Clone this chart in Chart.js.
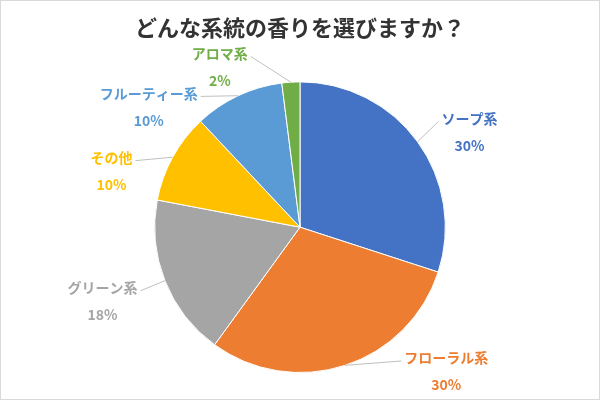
<!DOCTYPE html>
<html>
<head>
<meta charset="utf-8">
<script src="https://cdn.jsdelivr.net/npm/chart.js@4"></script>
<style>
  html, body { margin: 0; padding: 0; background: #fff; }
  #wrap { width: 600px; height: 401px; }
</style>
</head>
<body>
<div id="wrap"><canvas id="scentChart" width="600" height="401"></canvas></div>
<script>
// 香りの系統アンケート
const categories = ['ソープ系', 'フローラル系', 'グリーン系', 'その他', 'フルーティー系', 'アロマ系'];
const shares = [30, 30, 18, 10, 10, 2];
const sliceColors = ['#4472C4', '#ED7D31', '#A5A5A5', '#FFC000', '#5B9BD5', '#70AD47'];

// ラベルの位置（円の中心からの距離、半径単位）
const labelOffsets = [
    [1.166, -0.655],
    [1.007, 0.993],
    [-1.359, 0.51],
    [-1.297, -0.386],
    [-1.041, -0.828],
    [-0.552, -1.103]
];

const jpFont = '"Noto Sans CJK JP", "Noto Sans", sans-serif';

// 外側ラベル＋引き出し線
const outsideLabels = {
    id: 'outsideLabels',
    afterDatasetsDraw(chart) {
        const ctx = chart.ctx;
        const arcs = chart.getDatasetMeta(0).data;
        ctx.save();
        ctx.font = 'bold 14px ' + jpFont;
        ctx.textAlign = 'center';
        ctx.textBaseline = 'middle';
        arcs.forEach((arc, i) => {
            const p = arc.getProps(['x', 'y', 'startAngle', 'endAngle', 'outerRadius'], true);
            const r = p.outerRadius;
            const mid = (p.startAngle + p.endAngle) / 2;
            const ax = p.x + Math.cos(mid) * r;
            const ay = p.y + Math.sin(mid) * r;
            const cx = p.x + labelOffsets[i][0] * r;
            const cy = p.y + labelOffsets[i][1] * r;
            const nameY = cy - 13.5;
            const pctY = cy + 13.5;
            const w = ctx.measureText(categories[i]).width;
            const right = cx > p.x;
            const ex = right ? cx - w / 2 - 3 : cx + w / 2 + 3;
            const ey = nameY + 3;

            ctx.strokeStyle = '#BFBFBF';
            ctx.lineWidth = 1;
            ctx.beginPath();
            ctx.moveTo(ax, ay);
            ctx.lineTo(ex, ey);
            ctx.stroke();

            ctx.fillStyle = sliceColors[i];
            ctx.fillText(categories[i], cx, nameY);
            ctx.fillText(shares[i] + '%', cx, pctY);
        });
        ctx.restore();
    }
};

const frame = {
    id: 'frame',
    afterDraw(chart) {
        const ctx = chart.ctx;
        ctx.save();
        ctx.strokeStyle = '#D9D9D9';
        ctx.lineWidth = 1;
        ctx.strokeRect(0.5, 0.5, chart.width - 1, chart.height - 2);
        ctx.restore();
    }
};

const ctx = document.getElementById('scentChart').getContext('2d');
const scentChart = new Chart(ctx, {
    type: 'pie',
    data: {
        labels: categories,
        datasets: [{
            data: shares,
            backgroundColor: sliceColors,
            borderColor: '#ffffff',
            borderWidth: 1
        }]
    },
    options: {
        responsive: false,
        animation: false,
        layout: {
            padding: { top: 0, bottom: 28, left: 0, right: 0 }
        },
        plugins: {
            legend: { display: false },
            tooltip: { enabled: false },
            title: {
                display: true,
                text: 'どんな系統の香りを選びますか？',
                color: '#333333',
                font: { family: jpFont, size: 22, weight: 'bold' },
                padding: { top: 14, bottom: 41 }
            }
        }
    },
    plugins: [outsideLabels, frame]
});
</script>
</body>
</html>
